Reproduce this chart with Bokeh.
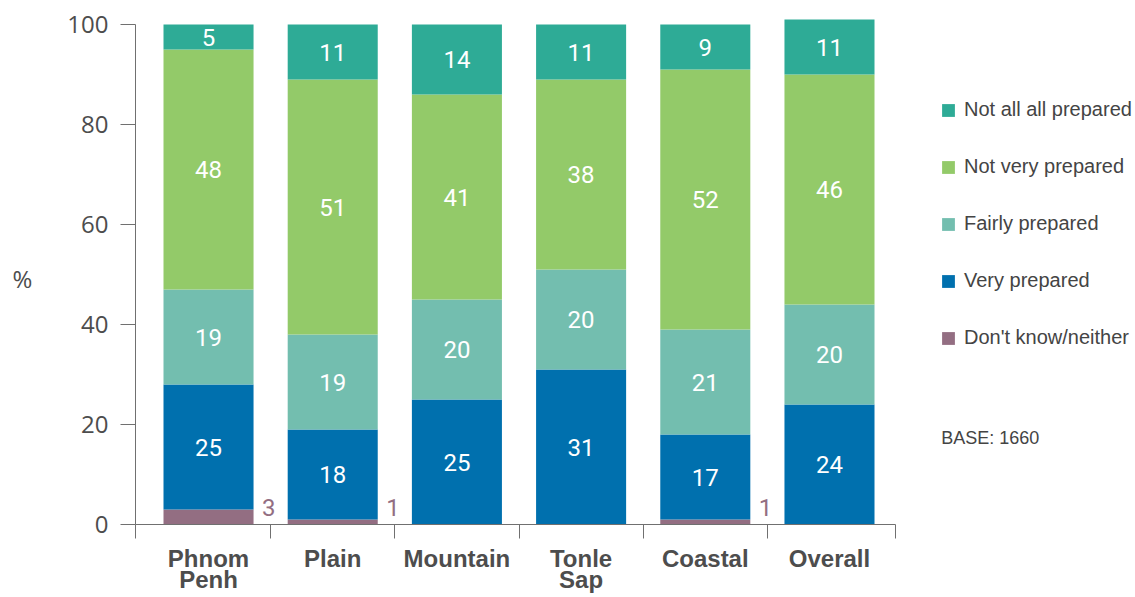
import numpy as np
from bokeh.plotting import figure
from bokeh.models import (ColumnDataSource, Legend, LegendItem, FixedTicker,
                          Label, Range1d)
from bokeh.core.properties import value
from bokeh.embed import file_html
from bokeh.resources import INLINE

# Preparedness by region, % of respondents
regions = ["Phnom Penh", "Plain", "Mountain", "Tonle Sap", "Coastal", "Overall"]
region_labels = ["Phnom\nPenh", "Plain", "Mountain", "Tonle\nSap", "Coastal", "Overall"]
dont_know = [3, 1, 0, 0, 1, 0]
very_prepared = [25, 18, 25, 31, 17, 24]
fairly_prepared = [19, 19, 20, 20, 21, 20]
not_very_prepared = [48, 51, 41, 38, 52, 46]
not_at_all_prepared = [5, 11, 14, 11, 9, 11]

series_names = ["Don't know/neither", "Very prepared", "Fairly prepared",
                "Not very prepared", "Not all all prepared"]
series_colors = ["#936E82", "#0070AE", "#73BEAF", "#93CA69", "#2EAB96"]
y_ticks = [0, 20, 40, 60, 80, 100]
y_axis_title = "%"
base_note = "BASE: 1660"

series_values = [dont_know, very_prepared, fairly_prepared,
                 not_very_prepared, not_at_all_prepared]
keys = ["dk", "very", "fairly", "notvery", "notall"]

xs = np.arange(len(regions)) + 0.5
# extent of the category axis (data units)
x_start, x_end = -0.088, 6.03

source = ColumnDataSource(dict(x=xs, **{k: v for k, v in zip(keys, series_values)}))

# the frame fills the whole canvas; axes are pinned inside it
p = figure(width=1135, height=597, output_backend="svg", toolbar_location=None,
           x_range=Range1d(-1.175, 7.964), y_range=Range1d(-14.6, 104.8),
           min_border=0)
p.outline_line_color = None
p.grid.visible = False
p.background_fill_color = "white"
p.border_fill_color = "white"

renderers = p.vbar_stack(keys, x="x", width=0.725, source=source,
                         color=series_colors, line_color=None)

# value labels centred in each segment; "don't know" beside the bar
bottoms = np.zeros(len(regions))
lab_x, lab_y, lab_t = [], [], []
dk_x, dk_y, dk_t = [], [], []
for i, vals in enumerate(series_values):
    vals = np.array(vals, dtype=float)
    for j, v in enumerate(vals):
        if i == 0:
            if v > 0:
                dk_x.append(xs[j] + 0.485)
                dk_y.append(3.4)
                dk_t.append(str(int(v)))
        else:
            lab_x.append(xs[j])
            lab_y.append(bottoms[j] + v / 2)
            lab_t.append(str(int(v)))
    bottoms += vals

p.text(x=lab_x, y=lab_y, text=lab_t, text_align="center", text_baseline="middle",
       text_color="white", text_font=value("Roboto"), text_font_size="24px")
p.text(x=dk_x, y=dk_y, text=dk_t, text_align="center", text_baseline="middle",
       text_color="#936E82", text_font=value("Roboto"), text_font_size="24px")

# y axis
ya = p.yaxis[0]
ya.fixed_location = x_start
ya.ticker = FixedTicker(ticks=y_ticks)
ya.bounds = (0, 100)
ya.minor_tick_line_color = None
ya.major_tick_out = 15
ya.major_tick_in = 0
ya.axis_line_color = "#707070"
ya.major_tick_line_color = "#707070"
ya.major_label_standoff = 12
ya.major_label_text_font = "Open Sans"
ya.major_label_text_font_size = "24px"
ya.major_label_text_color = "#4d4d4d"

# x axis: labels at bar centres, ticks at category boundaries
xa = p.xaxis[0]
xa.fixed_location = 0
xa.bounds = (x_start, x_end)
xa.ticker = FixedTicker(ticks=list(xs),
                        minor_ticks=[x_start, 1, 2, 3, 4, 5, x_end])
xa.major_label_overrides = {float(x): lab for x, lab in zip(xs, region_labels)}
xa.major_tick_line_color = None
xa.major_tick_out = 14
xa.major_tick_in = 0
xa.minor_tick_out = 14
xa.minor_tick_in = 0
xa.minor_tick_line_color = "#707070"
xa.axis_line_color = "#707070"
xa.major_label_standoff = 6
xa.major_label_text_font = "Liberation Sans"
xa.major_label_text_font_style = "bold"
xa.major_label_text_font_size = "24px"
xa.major_label_text_line_height = 0.8
xa.major_label_text_color = "#4d4d4d"

# legend, top entry first
items = [LegendItem(label=name, renderers=[r])
         for name, r in zip(series_names, renderers)][::-1]
legend = Legend(items=items, location=(940, 248), orientation="vertical",
                glyph_width=16, glyph_height=16, label_height=20,
                label_standoff=8, spacing=34, padding=0, margin=0,
                border_line_color=None, background_fill_alpha=0,
                label_text_font="Liberation Sans", label_text_font_size="20px",
                label_text_color="#444444")
p.add_layout(legend, "center")

p.add_layout(Label(x=-0.998, y=49.2, text=y_axis_title, text_align="center",
                   text_baseline="middle", text_font="Open Sans",
                   text_font_size="24px", text_color="#4d4d4d"))
p.add_layout(Label(x=6.40, y=17.4, text=base_note, text_align="left",
                   text_baseline="middle", text_font="Liberation Sans",
                   text_font_size="18px", text_color="#444444"))

open("out.html", "w").write(file_html(p, INLINE))
